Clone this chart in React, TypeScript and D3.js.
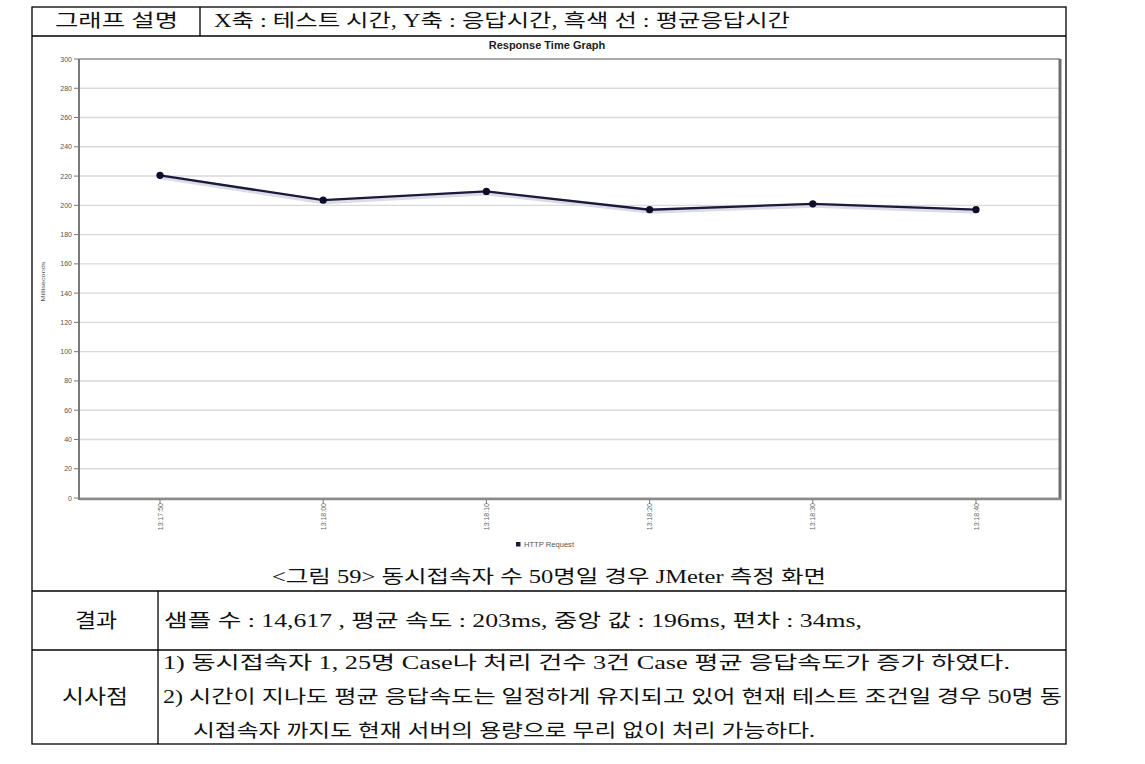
import React from "react";
import * as d3 from "d3";

const times = ["13:17:50", "13:18:00", "13:18:10", "13:18:20", "13:18:30", "13:18:40"];
const responseMs = [220.5, 203.5, 209.5, 197, 201, 197];
const yTicks = [0, 20, 40, 60, 80, 100, 120, 140, 160, 180, 200, 220, 240, 260, 280, 300];

const headerLabel = "그래프 설명";
const headerText = "X축 : 테스트 시간, Y축 : 응답시간, 흑색 선 : 평균응답시간";
const captionText = "<그림 59> 동시접속자 수 50명일 경우 JMeter 측정 화면";
const resultLabel = "결과";
const resultText = "샘플 수 : 14,617 , 평균 속도 : 203ms, 중앙 값 : 196ms, 편차 : 34ms,";
const insightLabel = "시사점";
const insightLines = [
  "1) 동시접속자 1, 25명 Case나 처리 건수 3건 Case 평균 응답속도가 증가 하였다.",
  "2) 시간이 지나도 평균 응답속도는 일정하게 유지되고 있어 현재 테스트 조건일 경우 50명 동",
  "시접속자 까지도 현재 서버의 용량으로 무리 없이 처리 가능하다.",
];

const docFont = "'Liberation Serif', 'Noto Sans CJK KR', serif";
const chartFont = "'Liberation Sans', Arial, sans-serif";

export default function App() {
  const plot = { left: 79, right: 1060, top: 59, bottom: 498 };
  const x = d3
    .scalePoint<string>()
    .domain(times)
    .range([160, 976]);
  const y = d3.scaleLinear().domain([0, 300]).range([plot.bottom, plot.top]);
  const line = d3
    .line<number>()
    .x((_, i) => x(times[i]) as number)
    .y((d) => y(d));

  const docText = (
    t: string,
    xx: number,
    yy: number,
    len?: number,
    size = 18
  ) => (
    <text
      x={xx}
      y={yy}
      fontFamily={docFont}
      fontSize={size}
      fill="#111"
      dominantBaseline="central"
      {...(len ? { textLength: len, lengthAdjust: "spacingAndGlyphs" } : {})}
    >
      {t}
    </text>
  );

  return (
    <svg
      width={1145}
      height={764}
      style={{ position: "absolute", left: 0, top: 0, background: "#fff" }}
    >
      <rect x={0} y={0} width={1145} height={764} fill="#fff" />
      {/* table borders */}
      <g stroke="#000" strokeWidth={1.3} fill="none">
        <rect x={32} y={7} width={1034} height={737} />
        <line x1={32} x2={1066} y1={36} y2={36} />
        <line x1={200} x2={200} y1={7} y2={36} />
        <line x1={32} x2={1066} y1={591} y2={591} />
        <line x1={158} x2={158} y1={591} y2={744} />
        <line x1={32} x2={1066} y1={650} y2={650} />
      </g>

      {/* table texts */}
      {docText(headerLabel, 55, 21, 123)}
      {docText(headerText, 214, 21, 576)}
      {docText(captionText, 272, 577, 554)}
      {docText(resultLabel, 75, 621, 42, 20)}
      {docText(resultText, 164, 621, 698)}
      {docText(insightLabel, 62, 697, 66, 20)}
      {docText(insightLines[0], 163, 663, 847)}
      {docText(insightLines[1], 163, 697, 899)}
      {docText(insightLines[2], 193, 731, 622)}

      {/* chart */}
      <text
        x={547}
        y={45}
        textAnchor="middle"
        dominantBaseline="central"
        fontFamily={chartFont}
        fontWeight="bold"
        fontSize={11}
        fill="#222"
      >
        Response Time Graph
      </text>

      {/* gridlines */}
      <g>
        {yTicks.map((t) => (
          <line
            key={t}
            x1={plot.left}
            x2={plot.right}
            y1={y(t)}
            y2={y(t)}
            stroke={t === 300 ? "#8c8c8c" : "#d9d9d9"}
            strokeWidth={t === 300 ? 1.5 : 1.4}
          />
        ))}
      </g>
      {/* plot frame */}
      <line x1={plot.right} x2={plot.right} y1={plot.top} y2={plot.bottom + 1} stroke="#6e6e6e" strokeWidth={3} />
      <line x1={plot.left} x2={plot.right + 1.5} y1={plot.bottom + 1} y2={plot.bottom + 1} stroke="#8a8a8a" strokeWidth={2.5} />
      <line x1={plot.left} x2={plot.left} y1={plot.top} y2={plot.bottom + 2} stroke="#7a7a7a" strokeWidth={2} />

      {/* y ticks */}
      <g>
        {yTicks.map((t) => (
          <g key={t}>
            <line x1={74} x2={79} y1={y(t)} y2={y(t)} stroke="#777" strokeWidth={1} />
            <text
              x={72}
              y={y(t)}
              textAnchor="end"
              dominantBaseline="central"
              fontFamily={chartFont}
              fontSize={7}
              fill="#555"
            >
              {t}
            </text>
          </g>
        ))}
      </g>
      <text
        transform={`translate(43,${(plot.top + plot.bottom) / 2 + 3}) rotate(-90)`}
        textAnchor="middle"
        dominantBaseline="central"
        fontFamily={chartFont}
        fontSize={6}
        fill="#555"
        textLength={40}
        lengthAdjust="spacingAndGlyphs"
      >
        Milliseconds
      </text>

      {/* x ticks */}
      <g>
        {times.map((t) => {
          const xx = x(t) as number;
          return (
            <g key={t}>
              <line x1={xx} x2={xx} y1={plot.bottom + 2} y2={plot.bottom + 6} stroke="#777" strokeWidth={1} />
              <text
                transform={`translate(${xx},503) rotate(-90)`}
                textAnchor="end"
                dominantBaseline="central"
                fontFamily={chartFont}
                fontSize={7}
                fill="#666"
              >
                {t}
              </text>
            </g>
          );
        })}
      </g>

      {/* series */}
      <path d={line(responseMs) || ""} fill="none" stroke="#dcdce6" strokeWidth={5} transform="translate(0,1.5)" />
      <path d={line(responseMs) || ""} fill="none" stroke="#1b1a3c" strokeWidth={2.3} />
      {responseMs.map((v, i) => (
        <circle key={i} cx={x(times[i]) as number} cy={y(v)} r={3.6} fill="#0e0d2a" />
      ))}

      {/* legend */}
      <rect x={516} y={542} width={4.5} height={4.5} fill="#1b1a3c" />
      <text
        x={524}
        y={544.5}
        dominantBaseline="central"
        fontFamily={chartFont}
        fontSize={6.5}
        fill="#555"
        textLength={50}
        lengthAdjust="spacingAndGlyphs"
      >
        HTTP Request
      </text>
    </svg>
  );
}
